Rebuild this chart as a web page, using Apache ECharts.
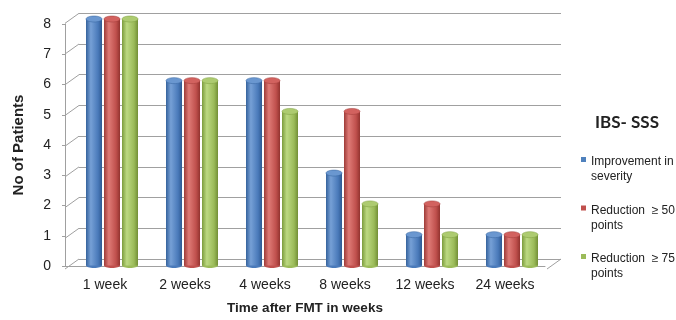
<!DOCTYPE html>
<html>
<head>
<meta charset="utf-8">
<script src="https://cdn.jsdelivr.net/npm/echarts@6/dist/echarts.min.js"></script>
<style>
html,body{margin:0;padding:0;background:#fff;}
#c{width:676px;height:320px;}
</style>
</head>
<body>
<div id="c"></div>
<script>
var categories = ['1 week', '2 weeks', '4 weeks', '8 weeks', '12 weeks', '24 weeks'];
var seriesNames = ['Improvement in severity', 'Reduction  \u2265 50 points', 'Reduction  \u2265 75 points'];
var improvement = [8, 6, 6, 3, 1, 1];
var reduction50 = [8, 6, 6, 5, 2, 1];
var reduction75 = [8, 6, 5, 2, 1, 1];
var yTicks = [0, 1, 2, 3, 4, 5, 6, 7, 8];

var values = [improvement, reduction50, reduction75];
var baseColors = ['#4f81bd', '#c0504d', '#9bbb59'];
var grads = [
  ['#35629c', '#76a0d6', '#4a7aba', '#2f5a92'],
  ['#9e3b38', '#de7a76', '#c0504d', '#93332f'],
  ['#7b9c3c', '#bcd982', '#9bbb59', '#728f36']
];
var capColors = ['#6a97d0', '#d2625f', '#adcb70'];
var axisGray = '#a0a0a0';
var FONT = 'Liberation Sans';
var BAR_W = 16, BAR_STEP = 18, CAP_H = 6;

function grad(g) {
  return new echarts.graphic.LinearGradient(0, 0, 1, 0, [
    {offset: 0, color: g[0]}, {offset: 0.3, color: g[1]},
    {offset: 0.75, color: g[2]}, {offset: 1, color: g[3]}
  ]);
}

function cylinder(i) {
  return function (params, api) {
    var top = api.coord([api.value(0), api.value(1)]);
    var base = api.coord([api.value(0), 0]);
    var cx = top[0] + (i - 1) * BAR_STEP;
    var x0 = cx - BAR_W / 2;
    return {
      type: 'group',
      children: [
        {type: 'ellipse', shape: {cx: cx, cy: base[1], rx: BAR_W / 2, ry: CAP_H / 2 - 0.5},
          style: {fill: grads[i][2]}},
        {type: 'rect', shape: {x: x0, y: top[1], width: BAR_W, height: base[1] - top[1]},
          style: {fill: grad(grads[i])}},
        {type: 'ellipse', shape: {cx: cx, cy: top[1], rx: BAR_W / 2, ry: CAP_H / 2},
          style: {fill: capColors[i], stroke: grads[i][0], lineWidth: 0.5}}
      ]
    };
  };
}

var series = [];
values.forEach(function (arr, i) {
  series.push({
    type: 'custom', name: seriesNames[i],
    data: arr.map(function (v, k) { return [k, v]; }),
    xAxisIndex: 2, yAxisIndex: 2, z: 3,
    itemStyle: {color: baseColors[i]},
    renderItem: cylinder(i)
  });
});
// depth lines (left wall diagonals) and floor right edge
var depthData = yTicks.map(function (v) { return [0, v]; }).concat([[1, 0]]);
series.push({
  type: 'custom', name: 'depth', xAxisIndex: 0, yAxisIndex: 0, data: depthData, silent: true, z: 1,
  renderItem: function (params, api) {
    var p = api.coord([api.value(0), api.value(1)]);
    return {type: 'line', shape: {x1: p[0] - 14, y1: p[1] + 10, x2: p[0], y2: p[1]},
      style: {stroke: axisGray, lineWidth: 1}};
  }
});

var legendIcon = 'path://M0,10H10V20H0Z M0,59.9H0.05V60H0Z';

var option = {
  backgroundColor: '#ffffff',
  animation: false,
  title: {
    text: 'IBS- SSS', left: 595, top: 114, padding: 0,
    textStyle: {fontFamily: 'Lato', fontWeight: 'bold', fontSize: 17, color: '#222'}
  },
  legend: {
    orient: 'vertical', left: 581, top: 154.5, padding: 0,
    data: seriesNames.map(function (n, i) { return {name: n, itemStyle: {color: baseColors[i]}}; }),
    icon: legendIcon, itemWidth: 5, itemHeight: 30, itemGap: 18.5,
    formatter: function (n) { return n.replace(/ (severity|points)$/, '\n$1'); },
    textStyle: {fontFamily: FONT, fontSize: 12, lineHeight: 15, color: '#222'}
  },
  grid: [
    {left: 79, right: 115, top: 13.3, bottom: 61},
    {left: 65, right: 131, top: 24, bottom: 51.5},
    {left: 72, right: 124, top: 19, bottom: 54.5}
  ],
  xAxis: [
    {type: 'value', gridIndex: 0, min: 0, max: 1, show: false},
    {type: 'category', gridIndex: 1, data: categories,
      axisLine: {show: true, lineStyle: {color: axisGray}}, axisTick: {show: false},
      axisLabel: {fontFamily: FONT, fontSize: 14, color: '#222', margin: 12},
      name: 'Time after FMT in weeks', nameLocation: 'middle', nameGap: 35,
      nameTextStyle: {fontFamily: FONT, fontWeight: 'bold', fontSize: 13.5, color: '#222'}},
    {type: 'category', gridIndex: 2, data: categories, show: false}
  ],
  yAxis: [
    {type: 'value', gridIndex: 0, min: 0, max: 8, interval: 1,
      axisLine: {show: false}, axisTick: {show: false}, axisLabel: {show: false},
      splitLine: {show: true, lineStyle: {color: axisGray, width: 1}}},
    {type: 'value', gridIndex: 1, min: 0, max: 8, interval: 1,
      axisLine: {show: true, lineStyle: {color: axisGray}},
      axisTick: {show: true, length: 3, lineStyle: {color: axisGray}},
      splitLine: {show: false},
      axisLabel: {fontFamily: FONT, fontSize: 14, color: '#222', margin: 14,
        formatter: function (v) { return yTicks.indexOf(v) >= 0 ? String(v) : ''; }},
      name: 'No of Patients', nameLocation: 'middle', nameGap: 39, nameRotate: 90,
      nameTextStyle: {fontFamily: FONT, fontWeight: 'bold', fontSize: 15, color: '#222'}},
    {type: 'value', gridIndex: 2, min: 0, max: 8, interval: 1, show: false}
  ],
  series: series
};

var chart = echarts.init(document.getElementById('c'), null, {renderer: 'canvas'});
chart.setOption(option);
</script>
</body>
</html>
